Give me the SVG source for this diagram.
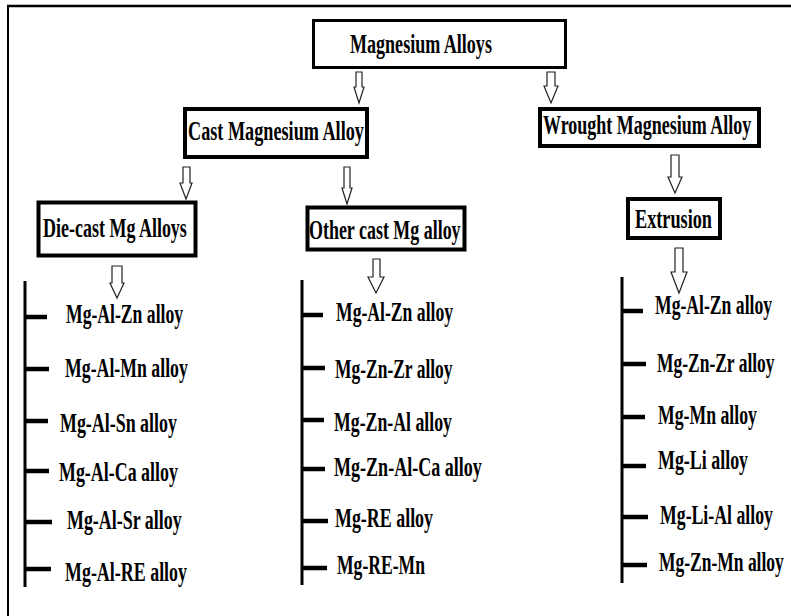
<svg xmlns="http://www.w3.org/2000/svg" width="791" height="616" viewBox="0 0 791 616">
<style>
text{font-family:"Liberation Serif","Times New Roman",serif;font-weight:bold;fill:#000;font-size:28px}
.box{fill:#fff;stroke:#000;stroke-width:4}
.thin{stroke-width:3}
.arr{fill:#fff;stroke:#222;stroke-width:1.2}
.ln{stroke:#000;stroke-width:3;fill:none}
.tk{stroke:#000;stroke-width:4.5}
</style>
<rect width="791" height="616" fill="#fff"/>
<g id="frame">
<line x1="7" y1="6" x2="791" y2="6" stroke="#000" stroke-width="2.5"/>
<line x1="8" y1="5" x2="8" y2="616" stroke="#000" stroke-width="2"/>
</g>
<g id="connectors">
<polygon class="arr" points="356,72 362,72 362,87 364,87 359,103 354,87 356,87"/>
<polygon class="arr" points="547,72 555,72 555,86 558,86 551,103 544,86 547,86"/>
<polygon class="arr" points="671,155 679,155 679,177 682,177 675,193 668,177 671,177"/>
<polygon class="arr" points="183,167 190,167 190,183 192,183 186,199 180,183 183,183"/>
<polygon class="arr" points="344,167 350,167 350,188 352,188 347,204 342,188 344,188"/>
<polygon class="arr" points="112,266 122,266 122,283 124,283 117,298 110,283 112,283"/>
<polygon class="arr" points="373,259 380,259 380,277 384,277 376,293 368,277 373,277"/>
<polygon class="arr" points="675,248 683,248 683,272 687,272 679,293 671,272 675,272"/>
<line class="ln" x1="25" y1="281" x2="25" y2="587"/>
<line class="tk" x1="25" y1="317" x2="47" y2="317"/>
<line class="tk" x1="25" y1="369" x2="49" y2="369"/>
<line class="tk" x1="25" y1="421" x2="48" y2="421"/>
<line class="tk" x1="25" y1="471" x2="49" y2="471"/>
<line class="tk" x1="25" y1="522" x2="52" y2="522"/>
<line class="tk" x1="25" y1="569" x2="51" y2="569"/>
<line class="ln" x1="302" y1="280" x2="302" y2="585"/>
<line class="tk" x1="302" y1="315" x2="323" y2="315"/>
<line class="tk" x1="302" y1="368" x2="325" y2="368"/>
<line class="tk" x1="302" y1="420" x2="324" y2="420"/>
<line class="tk" x1="302" y1="469" x2="325" y2="469"/>
<line class="tk" x1="302" y1="521" x2="328" y2="521"/>
<line class="tk" x1="302" y1="568" x2="327" y2="568"/>
<line class="ln" x1="622" y1="277" x2="622" y2="583"/>
<line class="tk" x1="622" y1="311" x2="643" y2="311"/>
<line class="tk" x1="622" y1="364" x2="646" y2="364"/>
<line class="tk" x1="622" y1="417" x2="645" y2="417"/>
<line class="tk" x1="622" y1="466" x2="646" y2="466"/>
<line class="tk" x1="622" y1="517" x2="648" y2="517"/>
<line class="tk" x1="622" y1="565" x2="647" y2="565"/>
</g>
<g id="magnesium-alloys">
<rect class="box thin" x="313.5" y="20.5" width="252" height="47"/>
<text transform="translate(350 53) scale(0.645 1)">Magnesium Alloys</text>
</g>
<g id="cast">
<rect class="box" x="185" y="109" width="182" height="48"/>
<text transform="translate(188 140) scale(0.65 1)">Cast Magnesium Alloy</text>
</g>
<g id="wrought">
<rect class="box" x="540" y="109" width="219" height="37"/>
<text transform="translate(543 134) scale(0.643 1)">Wrought Magnesium Alloy</text>
</g>
<g id="extrusion">
<rect class="box" x="628" y="199" width="92" height="39"/>
<text transform="translate(635 228) scale(0.651 1)">Extrusion</text>
</g>
<g id="die-cast">
<rect class="box" x="38.5" y="202.5" width="157" height="53" stroke-width="5"/>
<text transform="translate(43 237) scale(0.643 1)">Die-cast Mg Alloys</text>
</g>
<g id="other-cast">
<rect class="box" x="307.5" y="207.5" width="157" height="42" stroke-width="5"/>
<text transform="translate(309 239) scale(0.641 1)">Other cast Mg alloy</text>
</g>
<g id="die-cast-list">
<text transform="translate(66 323) scale(0.63 1)">Mg-Al-Zn alloy</text>
<text transform="translate(65 377) scale(0.635 1)">Mg-Al-Mn alloy</text>
<text transform="translate(60 432) scale(0.64 1)">Mg-Al-Sn alloy</text>
<text transform="translate(59 481) scale(0.64 1)">Mg-Al-Ca alloy</text>
<text transform="translate(67 529) scale(0.64 1)">Mg-Al-Sr alloy</text>
<text transform="translate(65 581) scale(0.641 1)">Mg-Al-RE alloy</text>
</g>
<g id="other-cast-list">
<text transform="translate(336 321) scale(0.63 1)">Mg-Al-Zn alloy</text>
<text transform="translate(335 378) scale(0.624 1)">Mg-Zn-Zr alloy</text>
<text transform="translate(334 431) scale(0.635 1)">Mg-Zn-Al alloy</text>
<text transform="translate(334 476) scale(0.645 1)">Mg-Zn-Al-Ca alloy</text>
<text transform="translate(335 527) scale(0.64 1)">Mg-RE alloy</text>
<text transform="translate(337 574) scale(0.629 1)">Mg-RE-Mn</text>
</g>
<g id="wrought-list">
<text transform="translate(655 314) scale(0.63 1)">Mg-Al-Zn alloy</text>
<text transform="translate(657 372) scale(0.624 1)">Mg-Zn-Zr alloy</text>
<text transform="translate(658 424) scale(0.633 1)">Mg-Mn alloy</text>
<text transform="translate(658 469) scale(0.64 1)">Mg-Li alloy</text>
<text transform="translate(660 524) scale(0.634 1)">Mg-Li-Al alloy</text>
<text transform="translate(659 571) scale(0.625 1)">Mg-Zn-Mn alloy</text>
</g>
</svg>
